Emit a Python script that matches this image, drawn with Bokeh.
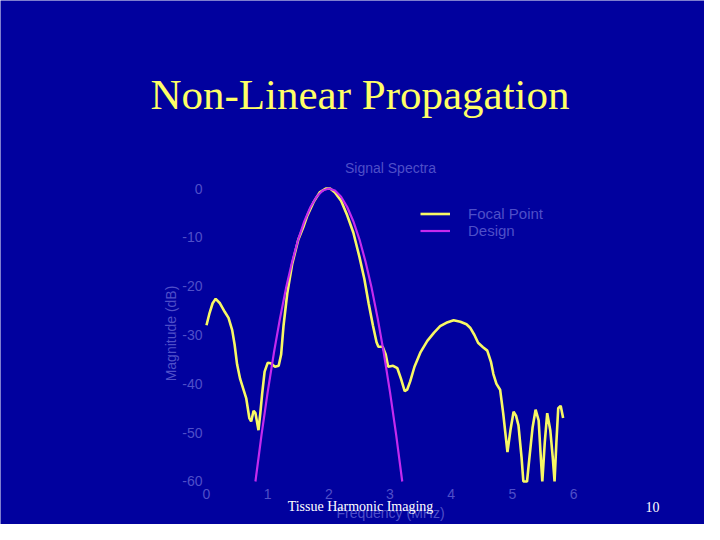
import math
from bokeh.plotting import figure
from bokeh.models import Range1d, Legend, LegendItem, ColumnDataSource, LinearAxis, FixedTicker
from bokeh.core.properties import value
from bokeh.embed import file_html
from bokeh.resources import INLINE

# ---- data ----
focal_freq = [0.00, 0.05, 0.10, 0.15, 0.22, 0.30, 0.36, 0.42, 0.46, 0.50, 0.55, 0.60,
              0.65, 0.70, 0.73, 0.77, 0.80, 0.85, 0.88, 0.91, 0.95, 1.00, 1.05, 1.12,
              1.18, 1.22, 1.26, 1.32, 1.40, 1.50, 1.58, 1.65, 1.75, 1.85, 1.95, 2.02,
              2.10, 2.20, 2.30, 2.40, 2.50, 2.58, 2.65, 2.72, 2.78, 2.81, 2.88, 2.93,
              2.97, 3.05, 3.12, 3.18, 3.24, 3.28, 3.33, 3.40, 3.50, 3.61, 3.72, 3.82,
              3.92, 4.04, 4.15, 4.25, 4.31, 4.38, 4.44, 4.52, 4.59, 4.65, 4.69, 4.74,
              4.80, 4.85, 4.92, 4.97, 5.02, 5.06, 5.10, 5.15, 5.18, 5.24, 5.28, 5.33,
              5.38, 5.43, 5.46, 5.49, 5.53, 5.57, 5.62, 5.66, 5.69, 5.72, 5.75, 5.79,
              5.83]
focal_db = [-28.0, -25.5, -23.5, -22.6, -23.5, -25.3, -26.5, -29.0, -32.0, -36.0, -39.0, -41.0,
            -43.0, -47.0, -47.7, -45.5, -46.0, -49.5, -46.0, -42.0, -37.5, -35.7, -35.8, -36.5,
            -36.3, -34.0, -28.0, -21.5, -15.5, -10.5, -8.0, -5.5, -2.8, -0.8, 0.0, 0.0,
            -0.8, -2.5, -5.5, -9.0, -14.0, -18.5, -23.5, -28.0, -31.5, -32.4, -32.4, -34.0,
            -36.5, -36.3, -36.8, -39.0, -41.5, -41.2, -39.5, -36.5, -33.5, -31.2, -29.5, -28.2,
            -27.5, -27.0, -27.3, -27.8, -28.5, -30.0, -31.6, -32.5, -33.2, -35.5, -38.0, -40.0,
            -41.2, -46.0, -54.0, -49.4, -45.7, -46.5, -48.5, -55.0, -60.0, -60.0, -55.0, -49.0,
            -45.3, -47.5, -54.0, -60.0, -52.0, -46.0, -49.5, -55.0, -60.0, -52.0, -45.0, -44.5,
            -47.0]

design_freq = [0.80, 0.90, 1.00, 1.10, 1.20, 1.30, 1.40, 1.50, 1.60, 1.70, 1.80, 1.90, 2.00,
               2.10, 2.20, 2.30, 2.40, 2.50, 2.60, 2.70, 2.80, 2.90, 3.00, 3.10, 3.20]
design_db = [-60.0, -50.4, -41.7, -33.8, -26.7, -20.4, -15.0, -10.4, -6.7, -3.8, -1.7, -0.4, 0.0,
             -0.4, -1.7, -3.8, -6.7, -10.4, -15.0, -20.4, -26.7, -33.8, -41.7, -50.4, -60.0]

x_ticks = [0, 1, 2, 3, 4, 5, 6]
y_ticks = [0, -10, -20, -30, -40, -50, -60]

slide_title = "Non-Linear Propagation"
chart_title = "Signal Spectra"
x_label = "Frequency (MHz)"
y_label = "Magnitude (dB)"
footer_text = "Tissue Harmonic Imaging"
page_number = "10"

# ---- styles ----
BG = "#01019E"
FAINT = "#4F4FC8"
YELLOW = "#F8F864"
MAGENTA = "#C42AEE"
W, H = 704, 524
PX_PER_MHZ = 61.17
PX_PER_DB = 4.8833
X0_PX, Y0_PX = 206, 188   # pixel position of (0 MHz, 0 dB)


def dx(px):
    return (px - X0_PX) / PX_PER_MHZ


def dy(py):
    return -(py - Y0_PX) / PX_PER_DB


p = figure(width=W, height=H, output_backend="svg", toolbar_location=None,
           x_range=Range1d(dx(0), dx(W)), y_range=Range1d(dy(H), dy(0)),
           x_axis_location=None, y_axis_location=None, min_border=0,
           background_fill_color=BG, border_fill_color=BG, outline_line_color=None)
p.grid.visible = False

xaxis = LinearAxis(fixed_location=-60, ticker=FixedTicker(ticks=x_ticks))
yaxis = LinearAxis(fixed_location=0, ticker=FixedTicker(ticks=y_ticks),
                   major_label_overrides={t: str(t) for t in y_ticks})
for ax in (xaxis, yaxis):
    ax.axis_line_color = None
    ax.major_tick_line_color = None
    ax.minor_tick_line_color = None
    ax.major_tick_out = 0
    ax.major_tick_in = 0
    ax.minor_tick_out = 0
    ax.minor_tick_in = 0
    ax.major_label_text_color = FAINT
    ax.major_label_text_font = "Liberation Sans"
    ax.major_label_text_font_size = "14px"
xaxis.major_label_standoff = 8
yaxis.major_label_standoff = 4
p.add_layout(xaxis, "below")
p.add_layout(yaxis, "left")

src_f = ColumnDataSource(dict(x=focal_freq, y=focal_db))
src_d = ColumnDataSource(dict(x=design_freq, y=design_db))
r_f = p.line("x", "y", source=src_f, line_color=YELLOW, line_width=2.6)
r_d = p.line("x", "y", source=src_d, line_color=MAGENTA, line_width=2.2)

legend = Legend(items=[LegendItem(label="Focal Point", renderers=[r_f]),
                       LegendItem(label="Design", renderers=[r_d])],
                location=(420, 285.5), background_fill_alpha=0, border_line_color=None,
                padding=0, margin=0, spacing=0, glyph_width=30, glyph_height=17,
                label_height=17, label_standoff=18, label_text_color=FAINT,
                label_text_font="Liberation Sans", label_text_font_size="15px")
p.add_layout(legend)

# texts
p.text(x=[dx(359.5)], y=[dy(94)], text=[slide_title], text_align="center",
       text_baseline="alphabetic", text_font=value("Liberation Serif"),
       text_font_size="43px", text_color="#FFFF66")
p.text(x=[dx(390)], y=[dy(167)], text=[chart_title], text_align="center",
       text_baseline="alphabetic", text_font=value("Liberation Sans"),
       text_font_size="14px", text_color=FAINT)
p.text(x=[dx(170)], y=[dy(333)], text=[y_label], angle=math.pi / 2,
       text_align="center", text_baseline="middle", text_font=value("Liberation Sans"),
       text_font_size="14px", text_color=FAINT)
p.text(x=[dx(390)], y=[dy(512)], text=[x_label], text_align="center",
       text_baseline="alphabetic", text_font=value("Liberation Sans"),
       text_font_size="14px", text_color=FAINT)
p.text(x=[dx(360)], y=[dy(506)], text=[footer_text], text_align="center",
       text_baseline="alphabetic", text_font=value("Liberation Serif"),
       text_font_size="14px", text_color="#FFFFFF")
p.text(x=[dx(652)], y=[dy(506)], text=[page_number], text_align="center",
       text_baseline="alphabetic", text_font=value("Liberation Serif"),
       text_font_size="14px", text_color="#FFFFFF")

open("out.html", "w").write(file_html(p, INLINE))
